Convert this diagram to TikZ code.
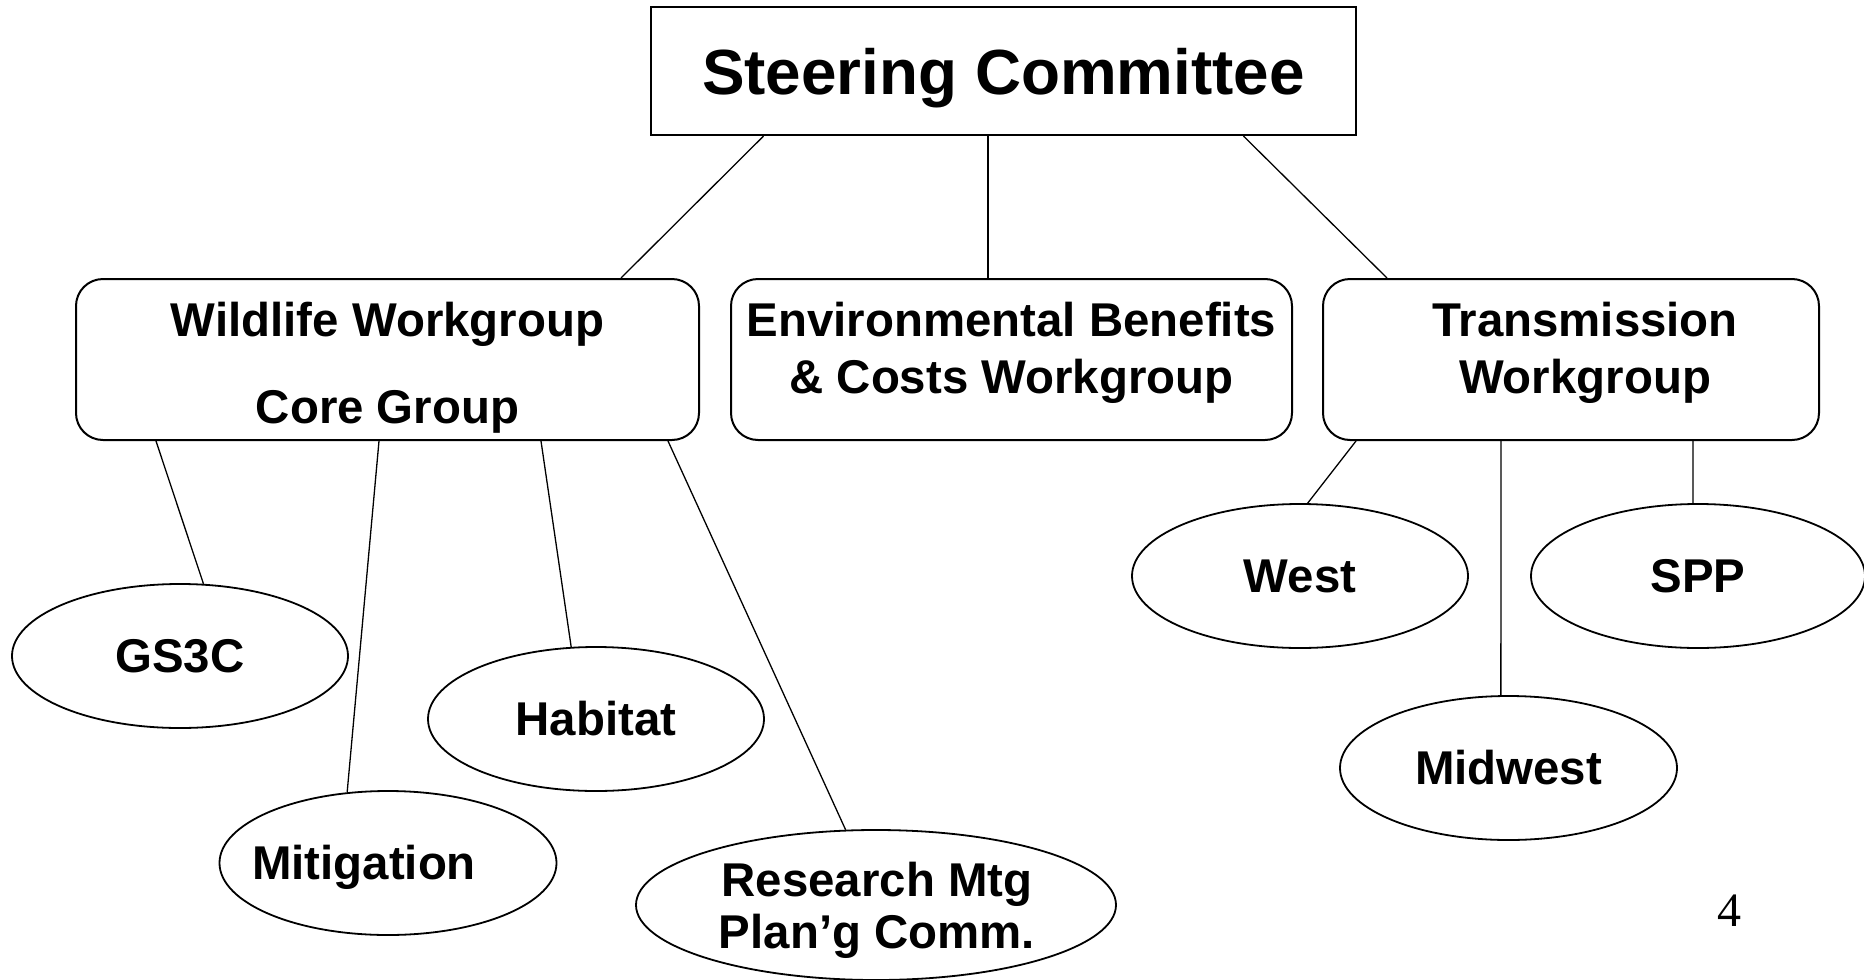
\documentclass[tikz,border=0pt]{standalone}
\usepackage{fontspec}
\setmainfont{Liberation Sans}
\newfontfamily\numfont{Liberation Serif}
\usetikzlibrary{shapes.geometric}
\begin{document}
\begin{tikzpicture}[x=1pt,y=-1pt,
  sqbox/.style={draw, line width=2.2pt, inner sep=0pt},
  rbox/.style={draw, line width=2pt, rounded corners=27pt, inner sep=0pt, minimum height=161pt},
  oval/.style={draw, ellipse, line width=1.8pt, inner sep=0pt, minimum width=336pt, minimum height=144pt},
  txt/.style={font=\bfseries\fontsize{47.4}{57}\selectfont, anchor=base, inner sep=0pt},
  big/.style={font=\bfseries\fontsize{63.8}{75}\selectfont, anchor=base, inner sep=0pt},
  pnum/.style={font=\numfont\fontsize{48}{56}\selectfont, anchor=base, inner sep=0pt},
  link/.style={line width=1.3pt}]
\useasboundingbox (0,0) rectangle (1864,980);
\fill[white] (0,0) rectangle (1864,980);

% top
\node[sqbox, minimum width=705pt, minimum height=128pt] (steer) at (1003.5,71) {};
\node[big] (steerT) at (1003.5,94.5) {Steering Committee};

% workgroups
\node[rbox, minimum width=623pt] (wild) at (387.5,359.5) {};
\node[txt] (wildA) at (387.5,336) {Wildlife Workgroup};
\node[txt] (wildB) at (387.5,423) {Core Group};

\node[rbox, minimum width=561pt] (env) at (1011.5,359.5) {};
\node[txt] (envA) at (1011.5,336) {Environmental Benefits};
\node[txt] (envB) at (1011.5,393) {\& Costs Workgroup};

\node[rbox, minimum width=496pt] (trans) at (1571,359.5) {};
\node[txt] (transA) at (1585,336) {Transmission};
\node[txt] (transB) at (1585,393) {Workgroup};

% wildlife subgroups
\node[oval] (gs) at (180,656) {};
\node[txt] (gsT) at (180,672.5) {GS3C};
\node[oval, minimum width=337pt] (mit) at (388,863) {};
\node[txt] (mitT) at (364,879.5) {Mitigation};
\node[oval] (hab) at (596,719) {};
\node[txt] (habT) at (596,735.5) {Habitat};
\node[oval, minimum width=480pt, minimum height=150pt] (res) at (876,905) {};
\node[txt] (resA) at (877,896) {Research Mtg};
\node[txt] (resB) at (877,948) {Plan’g Comm.};

% transmission subgroups
\node[oval] (west) at (1300,576) {};
\node[txt] (westT) at (1300,592.5) {West};
\node[oval, minimum width=334pt] (spp) at (1698,576) {};
\node[txt] (sppT) at (1698,592.5) {SPP};
\node[oval, minimum width=337pt] (mid) at (1508.5,768) {};
\node[txt] (midT) at (1508.5,784.5) {Midwest};

\node[pnum] (pg) at (1729,926) {4};

% connectors
\draw[link] ([xshift=-240pt]steer.south) -- ([xshift=233.5pt]wild.north);
\draw[link] ([xshift=-15.5pt]steer.south) -- ([xshift=-23.5pt]env.north);
\draw[link] ([xshift=240pt]steer.south) -- ([xshift=-184pt]trans.north);

\draw[link] ([xshift=-231.5pt]wild.south) -- (gs.72);
\draw[link] ([xshift=-8.5pt]wild.south) -- (mit.120);
\draw[link] ([xshift=153.5pt]wild.south) -- (hab.109);
\draw[link] ([xshift=280.5pt]wild.south) -- (res.112.6);

\draw[link] ([xshift=-215pt]trans.south) -- (west.84);
\draw[link] ([xshift=-70pt]trans.south) -- (mid.96);
\draw[link] ([xshift=122pt]trans.south) -- (spp.94);
\end{tikzpicture}
\end{document}
